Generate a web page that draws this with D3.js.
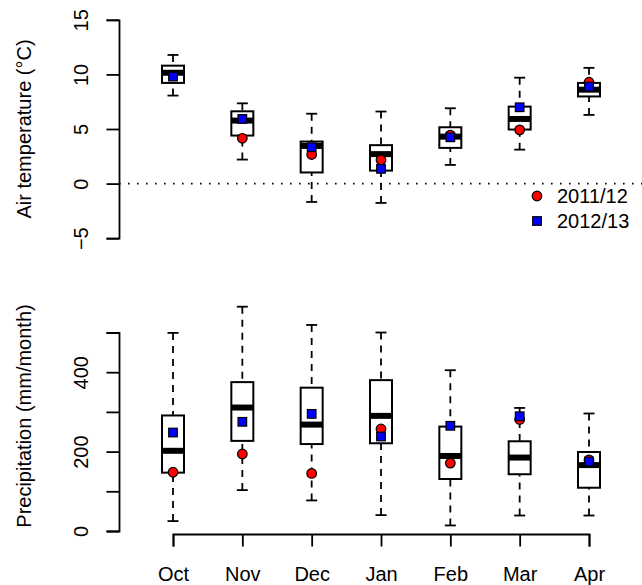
<!DOCTYPE html>
<html>
<head>
<meta charset="utf-8">
<script src="https://cdn.jsdelivr.net/npm/d3@7"></script>
<style>
  body { margin: 0; background: #fff; }
  svg { display: block; font-family: "Liberation Sans", Arial, sans-serif; }
</style>
</head>
<body>
<svg id="chart" width="642" height="585"></svg>
<script>
// months on the x axis
var months = ["Oct", "Nov", "Dec", "Jan", "Feb", "Mar", "Apr"];

// air temperature boxplots (deg C)
var tempLow  = [8.06, 2.2, -1.68, -1.77, 1.71, 3.11, 6.29];
var tempQ1   = [9.22, 4.40, 1.02, 1.19, 3.27, 4.95, 7.98];
var tempMed  = [10.15, 5.77, 3.45, 2.7, 4.3, 5.92, 8.6];
var tempQ3   = [10.8, 6.62, 3.85, 3.52, 5.16, 7.05, 9.22];
var tempHigh = [11.78, 7.35, 6.4, 6.6, 6.9, 9.7, 10.6];
var temp2011 = [null, 4.15, 2.66, 2.17, 4.44, 4.92, 9.28];
var temp2012 = [9.8, 5.92, 3.33, 1.35, 4.24, 6.99, 8.88];
var tempTicks = [-5, 0, 5, 10, 15];

// precipitation boxplots (mm/month)
var precLow  = [25, 103, 77, 40, 14, 39, 39];
var precQ1   = [147, 227, 219, 221, 131, 143, 109];
var precMed  = [202, 311, 268, 290, 189, 185, 166];
var precQ3   = [291, 375, 361, 380, 263, 226, 199];
var precHigh = [499, 565, 519, 500, 405, 310, 296];
var prec2011 = [148, 194, 145, 257, 171, 281, 179];
var prec2012 = [248, 275, 295, 238, 265, 289, 175];
var precTicks = [0, 100, 200, 300, 400, 500];
var precLabels = [0, 200, 400];

var seriesNames = ["2011/12", "2012/13"];

var svg = d3.select("#chart");
var FS = 20;

var x = d3.scalePoint().domain(months).range([173, 589]);
var yT = d3.scaleLinear().domain([-5, 15]).range([238.2, 19.8]);
var yP = d3.scaleLinear().domain([0, 500]).range([531, 332.5]);

function yAxis(g, scale, ticks, labels) {
  g.call(d3.axisLeft(scale).tickValues(ticks).tickSizeOuter(0).tickSize(12.5)
      .tickFormat(function (d) {
        if (labels && labels.indexOf(d) < 0) return "";
        return d < 0 ? "\u2212" + Math.abs(d) : d;
      }));
  g.select(".domain").attr("stroke-width", 1.8);
  g.selectAll(".tick line").attr("stroke-width", 1.8);
  g.selectAll(".tick text")
    .attr("transform", "rotate(-90)")
    .attr("x", 0).attr("y", -31).attr("dy", 0)
    .attr("text-anchor", "middle")
    .attr("font-size", FS).attr("fill", "#000");
}

function boxes(g, scale, low, q1, med, q3, high) {
  var bw = 22, cw = 11;
  months.forEach(function (m, i) {
    var cx = x(m);
    // whiskers, dashed from cap to box
    g.append("line").attr("x1", cx).attr("x2", cx)
      .attr("y1", scale(high[i])).attr("y2", scale(q3[i]))
      .attr("stroke", "#000").attr("stroke-width", 1.8).attr("stroke-dasharray", "7,6");
    g.append("line").attr("x1", cx).attr("x2", cx)
      .attr("y1", scale(low[i])).attr("y2", scale(q1[i]))
      .attr("stroke", "#000").attr("stroke-width", 1.8).attr("stroke-dasharray", "7,6");
    [low[i], high[i]].forEach(function (v) {
      g.append("line").attr("x1", cx - cw / 2).attr("x2", cx + cw / 2)
        .attr("y1", scale(v)).attr("y2", scale(v))
        .attr("stroke", "#000").attr("stroke-width", 1.8);
    });
    g.append("rect").attr("x", cx - bw / 2).attr("width", bw)
      .attr("y", scale(q3[i])).attr("height", scale(q1[i]) - scale(q3[i]))
      .attr("fill", "#fff").attr("stroke", "#000").attr("stroke-width", 2);
    g.append("line").attr("x1", cx - bw / 2).attr("x2", cx + bw / 2)
      .attr("y1", scale(med[i])).attr("y2", scale(med[i]))
      .attr("stroke", "#000").attr("stroke-width", 6);
  });
}

function points(g, scale, a, b) {
  var pa = months.map(function (m, i) { return { m: m, v: a[i] }; })
    .filter(function (d) { return d.v != null; });
  g.selectAll("circle.s1").data(pa).enter().append("circle")
    .attr("cx", function (d) { return x(d.m); })
    .attr("cy", function (d) { return scale(d.v); })
    .attr("r", 4.8).attr("fill", "#ff0000").attr("stroke", "#000").attr("stroke-width", 1.2);
  g.selectAll("rect.s2").data(b).enter().append("rect")
    .attr("x", function (d, i) { return x(months[i]) - 4.3; })
    .attr("y", function (d) { return scale(d) - 4.3; })
    .attr("width", 8.6).attr("height", 8.6)
    .attr("fill", "#0000ff").attr("stroke", "#000").attr("stroke-width", 1.2);
}

// ---- top panel: temperature
var gTop = svg.append("g");
gTop.append("line").attr("x1", 119).attr("x2", 643)
  .attr("y1", yT(0)).attr("y2", yT(0))
  .attr("stroke", "#000").attr("stroke-width", 1.8).attr("stroke-dasharray", "1.6,7.4");
boxes(gTop, yT, tempLow, tempQ1, tempMed, tempQ3, tempHigh);
points(gTop, yT, temp2011, temp2012);
gTop.append("g").attr("transform", "translate(119,0)").call(yAxis, yT, tempTicks);
gTop.append("text").attr("transform", "translate(31," + yT(5) + ") rotate(-90)")
  .attr("text-anchor", "middle").attr("font-size", FS).text("Air temperature (\u00b0C)");

// legend
var leg = gTop.append("g");
leg.append("circle").attr("cx", 537).attr("cy", 196).attr("r", 4.8)
  .attr("fill", "#ff0000").attr("stroke", "#000").attr("stroke-width", 1.2);
leg.append("rect").attr("x", 537 - 4.3).attr("y", 221 - 4.3).attr("width", 8.6).attr("height", 8.6)
  .attr("fill", "#0000ff").attr("stroke", "#000").attr("stroke-width", 1.2);
leg.selectAll("text").data(seriesNames).enter().append("text")
  .attr("x", 557).attr("y", function (d, i) { return 196 + i * 25; })
  .attr("dy", "0.35em").attr("font-size", FS).text(function (d) { return d; });

// ---- bottom panel: precipitation
var gBot = svg.append("g");
boxes(gBot, yP, precLow, precQ1, precMed, precQ3, precHigh);
points(gBot, yP, prec2011, prec2012);
gBot.append("g").attr("transform", "translate(119,0)").call(yAxis, yP, precTicks, precLabels);
gBot.append("text").attr("transform", "translate(31,416) rotate(-90)")
  .attr("text-anchor", "middle").attr("font-size", FS).text("Precipitation (mm/month)");

var xa = gBot.append("g").attr("transform", "translate(0,534)")
  .call(d3.axisBottom(x).tickSizeOuter(0).tickSize(12.5));
xa.select(".domain").attr("stroke-width", 1.8);
xa.selectAll(".tick line").attr("stroke-width", 1.8);
xa.selectAll(".tick text").attr("y", 47).attr("dy", 0)
  .attr("font-size", FS).attr("fill", "#000");
</script>
</body>
</html>
